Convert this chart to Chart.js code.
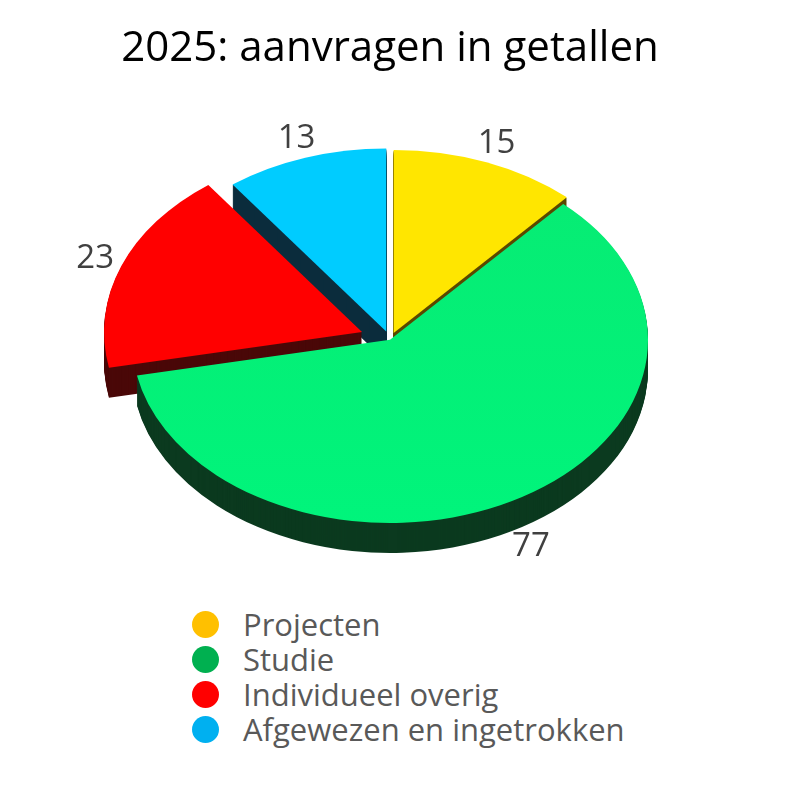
<!DOCTYPE html>
<html><head><meta charset="utf-8">
<script src="https://cdn.jsdelivr.net/npm/chart.js"></script>
<style>
body{margin:0;background:#fff;font-family:Calibri,"Liberation Sans",Arial,sans-serif;}
#wrap{position:relative;width:791px;height:600px;}
#legend{position:absolute;left:192px;top:607px;font-size:31px;color:#595959;font-family:"Open Sans",Arial,sans-serif;}
#legend div{height:35px;line-height:35px;display:flex;align-items:center;}
#legend span.d{display:inline-block;width:27px;height:27px;border-radius:50%;margin-right:24px;}
</style></head><body>
<div id="wrap"><canvas id="c" width="791" height="600"></canvas></div>
<div id="legend"></div>
<script>
const categories=["Projecten","Studie","Individueel overig","Afgewezen en ingetrokken"];
const values=[15,77,23,13];
const topColors=["#FFE600","#08EA72","#FF0000","#00CCFF"];
const sideColors=["#5a4800","#0b3a1f","#4a0808","#0b2c3c"];
const legendColors=["#FFC000","#00B050","#FF0000","#00B0F0"];
const offsets=[10,0,30,12];
const SQ=0.71, DEPTH=30;

const lg=document.getElementById('legend');
categories.forEach((c,i)=>{const d=document.createElement('div');d.innerHTML='<span class="d" style="background:'+legendColors[i]+'"></span>'+c;lg.appendChild(d);});

function slicePath(ctx,el,off){
  const mid=(el.startAngle+el.endAngle)/2;
  const x=el.x+Math.cos(mid)*off, y=el.y+Math.sin(mid)*off;
  ctx.beginPath();ctx.moveTo(x,y);
  ctx.arc(x,y,el.outerRadius,el.startAngle,el.endAngle);
  ctx.closePath();
}
const pie3d={id:'pie3d',afterDatasetsDraw(chart){
  const ctx=chart.ctx, meta=chart.getDatasetMeta(0), els=meta.data;
  const cx=els[0].x, cy=els[0].y;
  const order=[0,3,2,1];
  for(let d=DEPTH;d>=1;d--){
    order.forEach(i=>{
      ctx.save();ctx.translate(0,d);ctx.translate(cx,cy);ctx.scale(1,SQ);ctx.translate(-cx,-cy);
      slicePath(ctx,els[i],offsets[i]);ctx.fillStyle=sideColors[i];ctx.fill();ctx.restore();
    });
  }
  order.forEach(i=>{
    ctx.save();ctx.translate(cx,cy);ctx.scale(1,SQ);ctx.translate(-cx,-cy);
    slicePath(ctx,els[i],offsets[i]);
    const g=ctx.createLinearGradient(cx,cy-300,cx,cy+300);
    g.addColorStop(0,topColors[i]);g.addColorStop(1,i===1?'#00F57C':topColors[i]);
    ctx.fillStyle=g;ctx.fill();ctx.restore();
  });
  ctx.save();ctx.fillStyle='#404040';ctx.font='33px "Open Sans",Arial';ctx.textAlign='center';ctx.textBaseline='middle';
  els.forEach((el,i)=>{
    const mid=(el.startAngle+el.endAngle)/2, r=el.outerRadius+offsets[i]+28;
    let x=cx+Math.cos(mid)*r, y=cy+Math.sin(mid)*r*SQ;
    if(Math.sin(mid)>0) y+=DEPTH;
    ctx.fillText(String(values[i]),x,y);
  });
  ctx.restore();
}};
new Chart(document.getElementById('c'),{
  type:'pie',
  data:{labels:categories,datasets:[{data:values,backgroundColor:'rgba(0,0,0,0)',borderWidth:0}]},
  options:{responsive:false,animation:false,radius:258,
    layout:{padding:{right:11,bottom:15}},
    plugins:{legend:{display:false},tooltip:{enabled:false},
      title:{display:true,text:'2025: aanvragen in getallen',color:'#000',font:{size:42,family:'"Open Sans",Arial',weight:'normal'},padding:{top:24,bottom:20}}}},
  plugins:[pie3d]
});
</script></body></html>
